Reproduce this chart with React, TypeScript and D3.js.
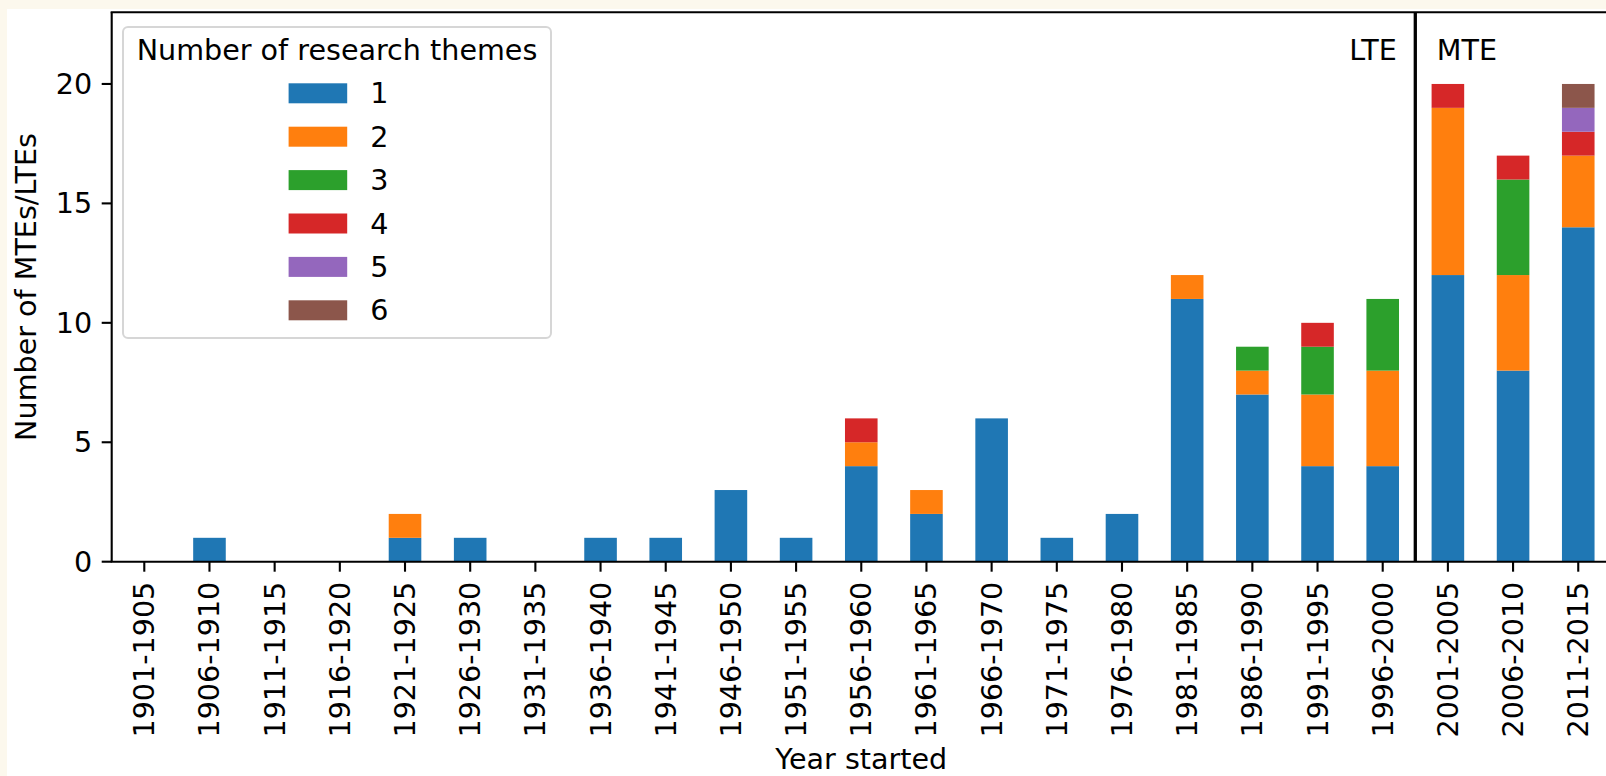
import React from "react";
import * as d3 from "d3";

// Five-year periods in which the experiments started
const categories = [
  "1901-1905", "1906-1910", "1911-1915", "1916-1920", "1921-1925",
  "1926-1930", "1931-1935", "1936-1940", "1941-1945", "1946-1950",
  "1951-1955", "1956-1960", "1961-1965", "1966-1970", "1971-1975",
  "1976-1980", "1981-1985", "1986-1990", "1991-1995", "1996-2000",
  "2001-2005", "2006-2010", "2011-2015",
];

// Counts of experiments by number of research themes
const themes1 = [0, 1, 0, 0, 1, 1, 0, 1, 1, 3, 1, 4, 2, 6, 1, 2, 11, 7, 4, 4, 12, 8, 14];
const themes2 = [0, 0, 0, 0, 1, 0, 0, 0, 0, 0, 0, 1, 1, 0, 0, 0, 1, 1, 3, 4, 7, 4, 3];
const themes3 = [0, 0, 0, 0, 0, 0, 0, 0, 0, 0, 0, 0, 0, 0, 0, 0, 0, 1, 2, 3, 0, 4, 0];
const themes4 = [0, 0, 0, 0, 0, 0, 0, 0, 0, 0, 0, 1, 0, 0, 0, 0, 0, 0, 1, 0, 1, 1, 1];
const themes5 = [0, 0, 0, 0, 0, 0, 0, 0, 0, 0, 0, 0, 0, 0, 0, 0, 0, 0, 0, 0, 0, 0, 1];
const themes6 = [0, 0, 0, 0, 0, 0, 0, 0, 0, 0, 0, 0, 0, 0, 0, 0, 0, 0, 0, 0, 0, 0, 1];

const seriesKeys = ["1", "2", "3", "4", "5", "6"];
const seriesValues = [themes1, themes2, themes3, themes4, themes5, themes6];
const seriesColors = ["#1f77b4", "#ff7f0e", "#2ca02c", "#d62728", "#9467bd", "#8c564b"];

const yTicks = [0, 5, 10, 15, 20];
const yMax = 23;
// Boundary between long-term (LTE) and medium-term (MTE) experiments, in category units
const dividerAt = 19.5;

const W = 1606;
const H = 776;
const FONT = "DejaVu Sans, Verdana, sans-serif";
const FS = 28.6;

export default function App() {
  const left = 111.7;
  const top = 12.3;
  const bottom = 561.7;
  const step = 65.18;
  const right = left + categories.length * step;

  const x = d3
    .scaleBand<string>()
    .domain(categories)
    .range([left, right])
    .paddingInner(0.5)
    .paddingOuter(0.25);
  const y = d3.scaleLinear().domain([0, yMax]).range([bottom, top]);

  const xIndex = d3
    .scaleLinear()
    .domain([-0.5, categories.length - 0.5])
    .range([left, right]);

  const rows = categories.map((c, i) => {
    const r: Record<string, any> = { cat: c };
    seriesKeys.forEach((k, j) => (r[k] = seriesValues[j][i]));
    return r;
  });
  const stacked = d3.stack<Record<string, any>>().keys(seriesKeys)(rows);

  const color = d3.scaleOrdinal<string, string>().domain(seriesKeys).range(seriesColors);

  const divX = xIndex(dividerAt);
  const lw = 2.1;

  // legend geometry
  const lg = { x: 123, y: 27, w: 428, h: 311 };
  const entryY0 = 93.3;
  const entryStep = 43.4;
  const patchX = 288.6;
  const patchW = 58.6;
  const patchH = 20;

  return (
    <div style={{ position: "absolute", left: 0, top: 0 }}>
      <svg width={W} height={H} style={{ display: "block" }} fontFamily={FONT}>
        <rect x={0} y={0} width={W} height={H} fill="#fcf8ed" />
        <rect x={7} y={9} width={W - 7} height={H - 9} fill="#ffffff" />

        {/* stacked bars */}
        {stacked.map((s) => (
          <g key={s.key} fill={color(s.key)}>
            {s.map((d, i) =>
              d[1] - d[0] > 0 ? (
                <rect
                  key={i}
                  x={x(categories[i])}
                  width={x.bandwidth()}
                  y={y(d[1])}
                  height={y(d[0]) - y(d[1])}
                />
              ) : null
            )}
          </g>
        ))}

        {/* divider between LTE and MTE */}
        <line x1={divX} x2={divX} y1={top} y2={bottom} stroke="#000" strokeWidth={3.3} />
        <text x={divX - 18.5} y={y(21)} fontSize={FS} textAnchor="end" fill="#000">
          LTE
        </text>
        <text x={divX + 21.5} y={y(21)} fontSize={FS} textAnchor="start" fill="#000">
          MTE
        </text>

        {/* spines */}
        <line x1={left} x2={left} y1={top} y2={bottom} stroke="#000" strokeWidth={lw} />
        <line x1={left - lw / 2} x2={right} y1={top} y2={top} stroke="#000" strokeWidth={lw} />
        <line x1={left - lw / 2} x2={right} y1={bottom} y2={bottom} stroke="#000" strokeWidth={lw} />
        <line x1={right} x2={right} y1={top} y2={bottom} stroke="#000" strokeWidth={lw} />

        {/* y axis */}
        {yTicks.map((t) => (
          <g key={t}>
            <line x1={left - 10} x2={left} y1={y(t)} y2={y(t)} stroke="#000" strokeWidth={lw} />
            <text
              x={left - 19.5}
              y={y(t)}
              fontSize={FS}
              textAnchor="end"
              dominantBaseline="central"
              fill="#000"
            >
              {t}
            </text>
          </g>
        ))}
        <text
          transform={`translate(26,${(top + bottom) / 2}) rotate(-90)`}
          fontSize={FS}
          textAnchor="middle"
          dominantBaseline="central"
          fill="#000"
        >
          Number of MTEs/LTEs
        </text>

        {/* x axis */}
        {categories.map((c) => {
          const cx = (x(c) as number) + x.bandwidth() / 2;
          return (
            <g key={c}>
              <line x1={cx} x2={cx} y1={bottom} y2={bottom + 10} stroke="#000" strokeWidth={lw} />
              <text
                transform={`translate(${cx},${bottom + 20}) rotate(-90)`}
                fontSize={FS}
                textAnchor="end"
                dominantBaseline="central"
                fill="#000"
              >
                {c}
              </text>
            </g>
          );
        })}
        <text x={(left + right) / 2} y={768.5} fontSize={FS} textAnchor="middle" fill="#000">
          Year started
        </text>

        {/* legend */}
        <rect
          x={lg.x}
          y={lg.y}
          width={lg.w}
          height={lg.h}
          rx={5}
          fill="#ffffff"
          fillOpacity={0.8}
          stroke="#d6d6d6"
          strokeWidth={2}
        />
        <text x={lg.x + lg.w / 2} y={60} fontSize={FS} textAnchor="middle" fill="#000">
          Number of research themes
        </text>
        {seriesKeys.map((k, i) => {
          const cy = entryY0 + i * entryStep;
          return (
            <g key={k}>
              <rect x={patchX} y={cy - patchH / 2} width={patchW} height={patchH} fill={color(k)} />
              <text
                x={patchX + patchW + 23}
                y={cy}
                fontSize={FS}
                dominantBaseline="central"
                fill="#000"
              >
                {k}
              </text>
            </g>
          );
        })}
      </svg>
    </div>
  );
}
